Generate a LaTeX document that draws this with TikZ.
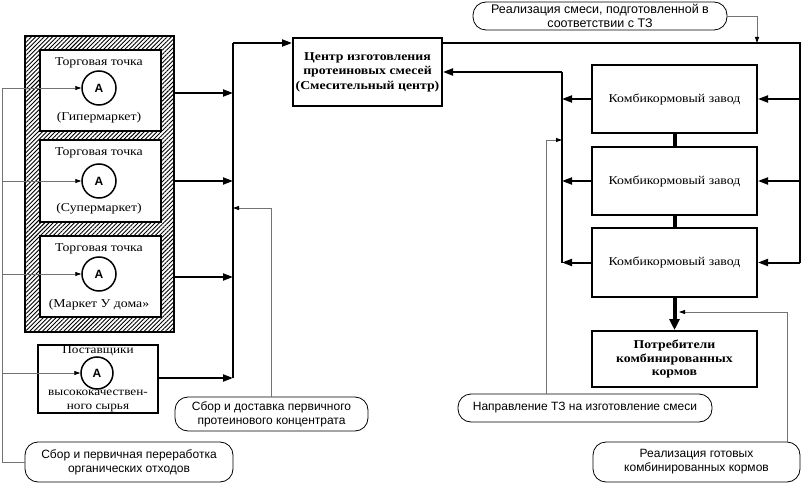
\documentclass[tikz,border=0pt]{standalone}
\usepackage{fontspec}
\setmainfont{Liberation Serif}[FakeStretch=1.15]
\setsansfont{Liberation Sans}
\usetikzlibrary{patterns.meta,arrows.meta}
\tikzset{
  hatchframe/.style={draw, line width=2.2pt, pattern={Lines[angle=45,distance=3pt,line width=0.9pt]}, inner sep=0pt},
  wbox/.style={draw, line width=2pt, fill=white, inner sep=0pt},
  circ/.style={draw, circle, line width=1.5pt, minimum size=34pt, inner sep=0pt, fill=white, font=\sffamily\bfseries\fontsize{12}{12}\selectfont},
  lbl/.style={inner sep=0pt, font=\fontsize{12}{14}\selectfont},
  blbl/.style={inner sep=0pt, align=center, font=\bfseries\fontsize{12}{14.5}\selectfont},
  slbl/.style={inner sep=0pt, font=\fontsize{11.5}{13}\selectfont},
  callout/.style={draw, rounded corners=13pt, line width=0.8pt, inner sep=0pt, align=center, font=\sffamily\fontsize{12}{14}\selectfont},
  thickline/.style={line width=2pt},
  thickarrow/.style={line width=2pt, -{Triangle[length=10pt,width=7pt]}},
  heavyarrow/.style={line width=4pt, -{Triangle[length=11pt,width=10pt]}},
  heavyline/.style={line width=4pt},
  thinline/.style={draw=black!55, line width=0.8pt},
  thinarrow/.style={draw=black!55, line width=0.8pt, -{Triangle[length=6pt,width=4pt,color=black]}},
}
\begin{document}
\begin{tikzpicture}[x=1pt,y=-1pt]
\useasboundingbox (0,0) rectangle (804,484);

% hatched frame and shops
\node[hatchframe, minimum width=149pt, minimum height=296pt] (frame) at (99.5,184) {};
\node[wbox, minimum width=121pt, minimum height=81pt] (b1) at (100,90.5) {};
\node[wbox, minimum width=121pt, minimum height=82pt] (b2) at (100,181) {};
\node[wbox, minimum width=121pt, minimum height=81pt] (b3) at (100,276.5) {};
\node[wbox, minimum width=120pt, minimum height=68pt] (b4) at (98,379) {};

\node[lbl] (t1a) at (99,63) {Торговая точка};
\node[lbl] (t1b) at (99,118) {(Гипермаркет)};
\node[lbl] (t2a) at (99,153) {Торговая точка};
\node[lbl] (t2b) at (99,209) {(Супермаркет)};
\node[lbl] (t3a) at (99,249) {Торговая точка};
\node[lbl] (t3b) at (99,305) {(Маркет У дома»};
\node[slbl, fill=white, inner xsep=1pt] (t4a) at (98,351) {Поставщики};
\node[slbl] (t4b) at (98,393) {высококачествен-};
\node[slbl] (t4c) at (98,408) {ного сырья};

\node[circ] (c1) at (99,88) {A};
\node[circ] (c2) at (99,181) {A};
\node[circ] (c3) at (99,274) {A};
\node[circ, minimum size=32pt] (c4) at (97,373) {A};

% center
\node[wbox, minimum width=149pt, minimum height=68pt] (cen) at (367.5,72) {};
\node[blbl] (centxt) at (367.5,72) {Центр изготовления\\протеиновых смесей\\(Смесительный центр)};

% plants
\node[wbox, minimum width=165pt, minimum height=68pt, font=\fontsize{12}{14}\selectfont] (z1) at (674.5,99) {Комбикормовый завод};
\node[wbox, minimum width=165pt, minimum height=68pt, font=\fontsize{12}{14}\selectfont] (z2) at (674.5,181) {Комбикормовый завод};
\node[wbox, minimum width=165pt, minimum height=69pt, font=\fontsize{12}{14}\selectfont] (z3) at (674.5,262.5) {Комбикормовый завод};
\node[wbox, minimum width=165pt, minimum height=56pt, align=center, font=\bfseries\fontsize{12}{13.5}\selectfont] (pot) at (674.5,359) {Потребители\\комбинированных\\кормов};

% callouts
\node[callout, minimum width=254pt, minimum height=28pt, font=\sffamily\fontsize{12.5}{14}\selectfont] (ctop) at (600,16) {Реализация смеси, подготовленной в\\соответствии с ТЗ};
\node[callout, minimum width=254pt, minimum height=28pt] (napr) at (585,408) {Направление ТЗ на изготовление смеси};
\node[callout, minimum width=207pt, minimum height=40pt] (realg) at (696.5,462) {Реализация готовых\\комбинированных кормов};
\node[callout, minimum width=193pt, minimum height=34pt] (sbd) at (271.5,414) {Сбор и доставка первичного\\протеинового концентрата};
\node[callout, minimum width=208pt, minimum height=40pt] (sbp) at (129,462) {Сбор и первичная переработка\\органических отходов};

% coordinates
\coordinate (lx) at (2,0);
\coordinate (bus) at (233,0);
\coordinate (ytop) at (0,43);
\coordinate (yin) at (0,72);
\coordinate (rb) at (800,0);
\coordinate (lb) at (562,0);
\coordinate (a1) at (0,93);
\coordinate (a2) at (0,181);
\coordinate (a3) at (0,277);
\coordinate (a4) at (0,378);
\coordinate (sd) at (271,208);
\coordinate (nx) at (546,140);
\coordinate (rg) at (787,312);
\coordinate (rgend) at (679,312);
\coordinate (ct) at (757,43);

% left thin supply lines
\draw[thinline] (sbp.west) -| (c1.west -| lx);
\draw[thinarrow] (c1.west -| lx) -- (c1.west);
\draw[thinarrow] (c2.west -| lx) -- (c2.west);
\draw[thinarrow] (c3.west -| lx) -- (c3.west);
\draw[thinarrow] (c4.west -| lx) -- (c4.west);

% bus to center
\draw[thickline] (bus |- ytop) -- (bus |- a4);
\draw[thickarrow] (bus |- ytop) -- (cen.west |- ytop);
\draw[thickarrow] (frame.east |- a1) -- (bus |- a1);
\draw[thickarrow] (frame.east |- a2) -- (bus |- a2);
\draw[thickarrow] (frame.east |- a3) -- (bus |- a3);
\draw[thickarrow] (b4.east |- a4) -- (bus |- a4);

% center to plants
\draw[thickline] (cen.east |- ytop) -| (rb |- z3.east);
\draw[thickarrow] (rb |- z1.east) -- (z1.east);
\draw[thickarrow] (rb |- z2.east) -- (z2.east);
\draw[thickarrow] (rb |- z3.east) -- (z3.east);

% plants to center
\draw[thickline] (lb |- yin) -- (lb |- z3.west);
\draw[thickarrow] (lb |- yin) -- (cen.east |- yin);
\draw[thickarrow] (z1.west) -- (lb |- z1.west);
\draw[thickarrow] (z2.west) -- (lb |- z2.west);
\draw[thickarrow] (z3.west) -- (lb |- z3.west);

% between plants
\draw[heavyline] (z1.south) -- (z2.north);
\draw[heavyline] (z2.south) -- (z3.north);
\draw[heavyarrow] (z3.south) -- (pot.north);

% thin callout arrows
\draw[thinarrow] (sbd.north -| sd) |- (bus |- sd);
\draw[thinarrow] (napr.north -| nx) |- (lb |- nx);
\draw[thinarrow] (realg.north -| rg) |- (rgend);
\draw[thinarrow] (ctop.east) -| (ct);
\end{tikzpicture}
\end{document}
